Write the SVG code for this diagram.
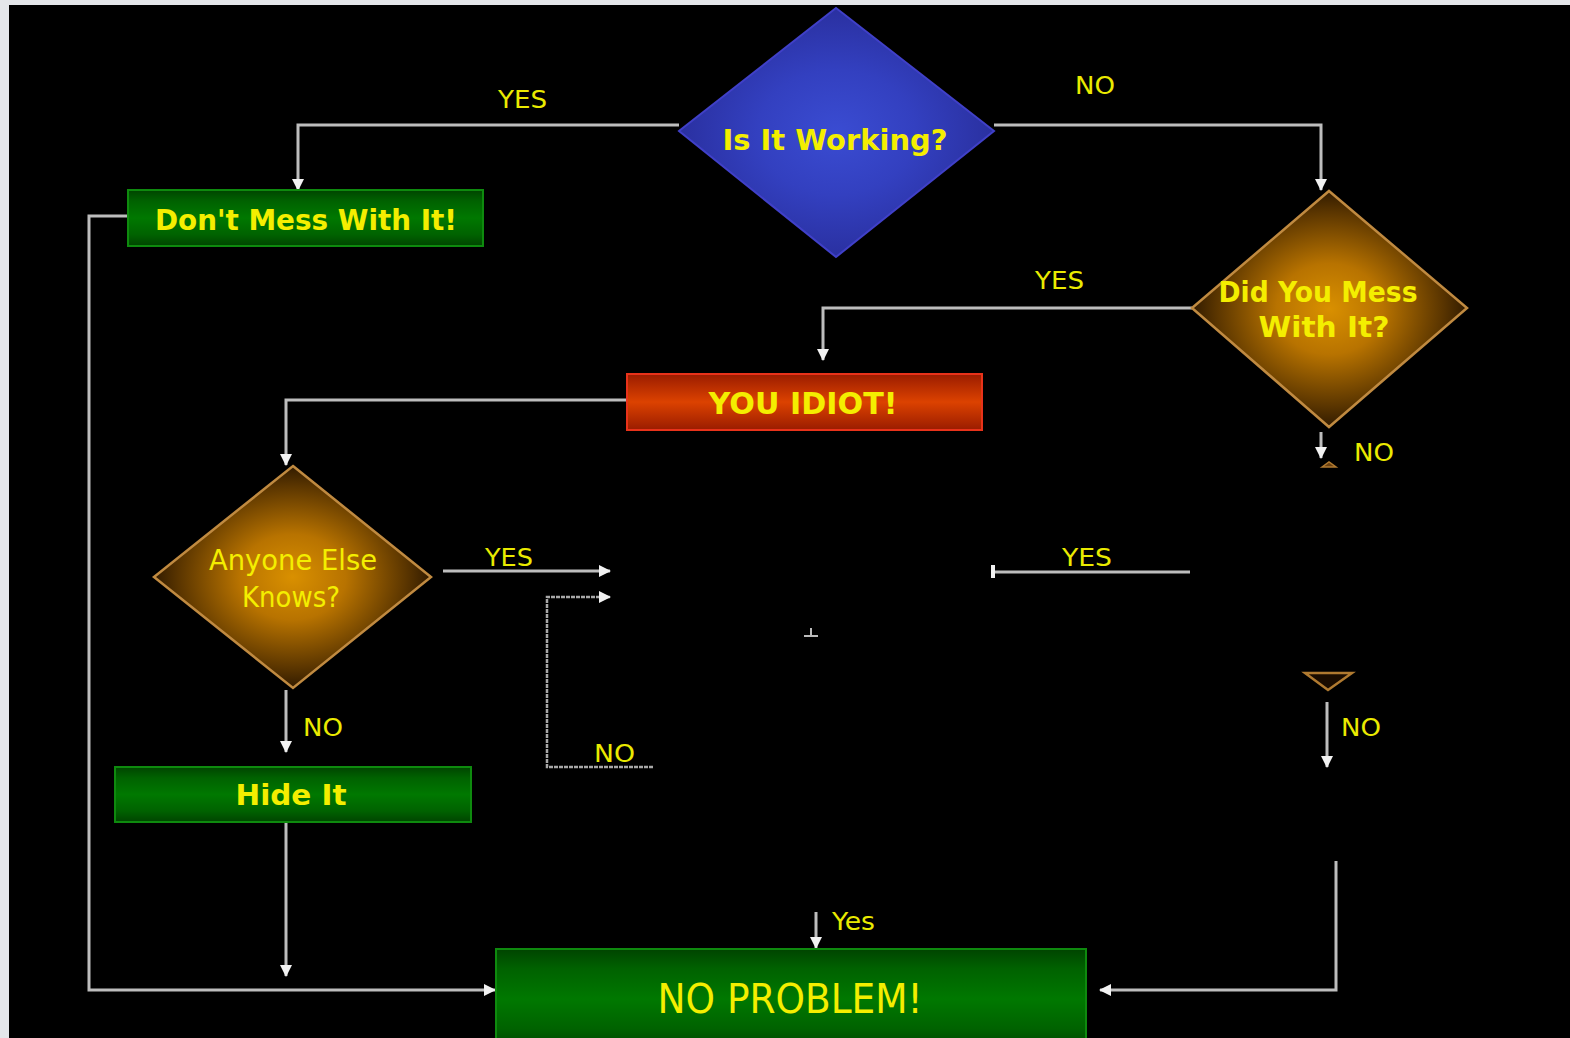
<svg xmlns="http://www.w3.org/2000/svg" width="1570" height="1038" viewBox="0 0 1570 1038">
<defs>
<style>
.node-text{font-family:"DejaVu Sans","Liberation Sans",sans-serif;font-weight:bold;fill:#f4ee00;text-anchor:middle}
.node-text.light{font-weight:normal}
.lbl{font-family:"DejaVu Sans","Liberation Sans",sans-serif;fill:#eaea00;font-size:25px}
.conn{fill:none;stroke:#bdbdbd;stroke-width:3}
.dotted{stroke-dasharray:4 1;stroke-width:2.5;stroke:#a8a8a8}
</style>
<marker id="arr" viewBox="0 0 12 12" refX="11" refY="6" markerWidth="12" markerHeight="12" markerUnits="userSpaceOnUse" orient="auto">
<path d="M0,0 L12,6 L0,12 z" fill="#f2f2f2"/>
</marker>
<radialGradient id="gBlue" cx="0.5" cy="0.5" r="0.5">
<stop offset="0" stop-color="#3a4cd2"/>
<stop offset="0.5" stop-color="#3340c0"/>
<stop offset="1" stop-color="#2a30a0"/>
</radialGradient>
<radialGradient id="gOrange" cx="0.5" cy="0.5" r="0.55">
<stop offset="0" stop-color="#d99000"/>
<stop offset="0.35" stop-color="#b87300"/>
<stop offset="0.75" stop-color="#5a3500"/>
<stop offset="1" stop-color="#1a0c00"/>
</radialGradient>
<linearGradient id="gGreen" x1="0" y1="0" x2="0" y2="1">
<stop offset="0" stop-color="#004400"/>
<stop offset="0.2" stop-color="#006200"/>
<stop offset="0.5" stop-color="#007800"/>
<stop offset="0.8" stop-color="#006200"/>
<stop offset="1" stop-color="#004400"/>
</linearGradient>
<linearGradient id="gRed" x1="0" y1="0" x2="0" y2="1">
<stop offset="0" stop-color="#9a1c00"/>
<stop offset="0.5" stop-color="#dc4200"/>
<stop offset="1" stop-color="#9a1c00"/>
</linearGradient>
</defs>

<rect x="0" y="0" width="1570" height="1038" fill="#e4e6ea"/>
<rect x="9" y="5" width="1561" height="1033" fill="#000"/>

<g id="connectors">
<path class="conn" d="M679,125 H298 V190" marker-end="url(#arr)"/>
<path class="conn" d="M994,125 H1321 V190" marker-end="url(#arr)"/>
<path class="conn" d="M128,216 H89 V990 H495" marker-end="url(#arr)"/>
<path class="conn" d="M1192,308 H823 V360" marker-end="url(#arr)"/>
<path class="conn" d="M627,400 H286 V465" marker-end="url(#arr)"/>
<path class="conn" d="M1321,432 V458" marker-end="url(#arr)"/>
<path class="conn" d="M443,571 H610" marker-end="url(#arr)"/>
<path class="conn dotted" d="M653,767 H547 V597 H610" marker-end="url(#arr)"/>
<path class="conn" d="M286,690 V752" marker-end="url(#arr)"/>
<path class="conn" d="M286,822 V976" marker-end="url(#arr)"/>
<path class="conn" d="M1327,702 V767" marker-end="url(#arr)"/>
<path class="conn" d="M816,912 V948" marker-end="url(#arr)"/>
<path class="conn" d="M1336,861 V990 H1100" marker-end="url(#arr)"/>
<path class="conn" d="M993,572 H1190"/>
<rect x="991" y="565" width="4" height="13" fill="#f0f0f0"/>
<path d="M811,628 V636 M804,636 H818" stroke="#bbbbbb" stroke-width="2" fill="none"/>
</g>

<g id="node-working">
<polygon points="836,8 994,131 836,257 679,131" fill="url(#gBlue)" stroke="#4040c8" stroke-width="2"/>
<text class="node-text" x="835" y="150" font-size="28" textLength="225" lengthAdjust="spacingAndGlyphs">Is It Working?</text>
</g>

<g id="node-dontmess">
<rect x="128" y="190" width="355" height="56" fill="url(#gGreen)" stroke="#0e8a0e" stroke-width="2"/>
<text class="node-text" x="306" y="230" font-size="28" textLength="302" lengthAdjust="spacingAndGlyphs">Don't Mess With It!</text>
</g>

<g id="node-didyoumess">
<polygon points="1329,191 1467,308 1329,427 1192,308" fill="url(#gOrange)" stroke="#c08a40" stroke-width="2.5"/>
<text class="node-text" x="1318" y="302" font-size="28" textLength="199" lengthAdjust="spacingAndGlyphs">Did You Mess</text>
<text class="node-text" x="1324" y="337" font-size="28" textLength="131" lengthAdjust="spacingAndGlyphs">With It?</text>
</g>

<g id="node-youidiot">
<rect x="627" y="374" width="355" height="56" fill="url(#gRed)" stroke="#e8321a" stroke-width="2"/>
<text class="node-text" x="803" y="414" font-size="30" textLength="189" lengthAdjust="spacingAndGlyphs">YOU IDIOT!</text>
</g>

<g id="node-anyone">
<polygon points="293,466 431,577 293,688 154,577" fill="url(#gOrange)" stroke="#c08a40" stroke-width="2.5"/>
<text class="node-text light" x="293" y="570" font-size="28" textLength="168" lengthAdjust="spacingAndGlyphs">Anyone Else</text>
<text class="node-text light" x="291" y="607" font-size="28" textLength="98" lengthAdjust="spacingAndGlyphs">Knows?</text>
</g>

<g id="node-hideit">
<rect x="115" y="767" width="356" height="55" fill="url(#gGreen)" stroke="#0e8a0e" stroke-width="2"/>
<text class="node-text" x="291" y="805" font-size="28" textLength="111" lengthAdjust="spacingAndGlyphs">Hide It</text>
</g>

<g id="node-hidden-marks">
<polygon points="1322,467 1329,462 1336,467" fill="#6a4010" stroke="#b07a30" stroke-width="1.5"/>
<polygon points="1305,673 1328,690 1352,673" fill="#1a0c00" stroke="#b07a30" stroke-width="2.5"/>
</g>

<g id="node-noproblem">
<rect x="496" y="949" width="590" height="100" fill="url(#gGreen)" stroke="#0e8a0e" stroke-width="2"/>
<text class="node-text light" x="790" y="1013" font-size="40" textLength="265" lengthAdjust="spacingAndGlyphs">NO PROBLEM!</text>
</g>

<g id="labels">
<text class="lbl" x="498" y="108" textLength="49" lengthAdjust="spacingAndGlyphs">YES</text>
<text class="lbl" x="1075" y="94" textLength="40" lengthAdjust="spacingAndGlyphs">NO</text>
<text class="lbl" x="1035" y="289" textLength="49" lengthAdjust="spacingAndGlyphs">YES</text>
<text class="lbl" x="1354" y="461" textLength="40" lengthAdjust="spacingAndGlyphs">NO</text>
<text class="lbl" x="485" y="566" textLength="48" lengthAdjust="spacingAndGlyphs">YES</text>
<text class="lbl" x="1062" y="566" textLength="50" lengthAdjust="spacingAndGlyphs">YES</text>
<text class="lbl" x="303" y="736" textLength="40" lengthAdjust="spacingAndGlyphs">NO</text>
<text class="lbl" x="594" y="762" textLength="41" lengthAdjust="spacingAndGlyphs">NO</text>
<text class="lbl" x="1341" y="736" textLength="40" lengthAdjust="spacingAndGlyphs">NO</text>
<text class="lbl" x="832" y="930" font-size="22" textLength="43" lengthAdjust="spacingAndGlyphs">Yes</text>
</g>
</svg>
